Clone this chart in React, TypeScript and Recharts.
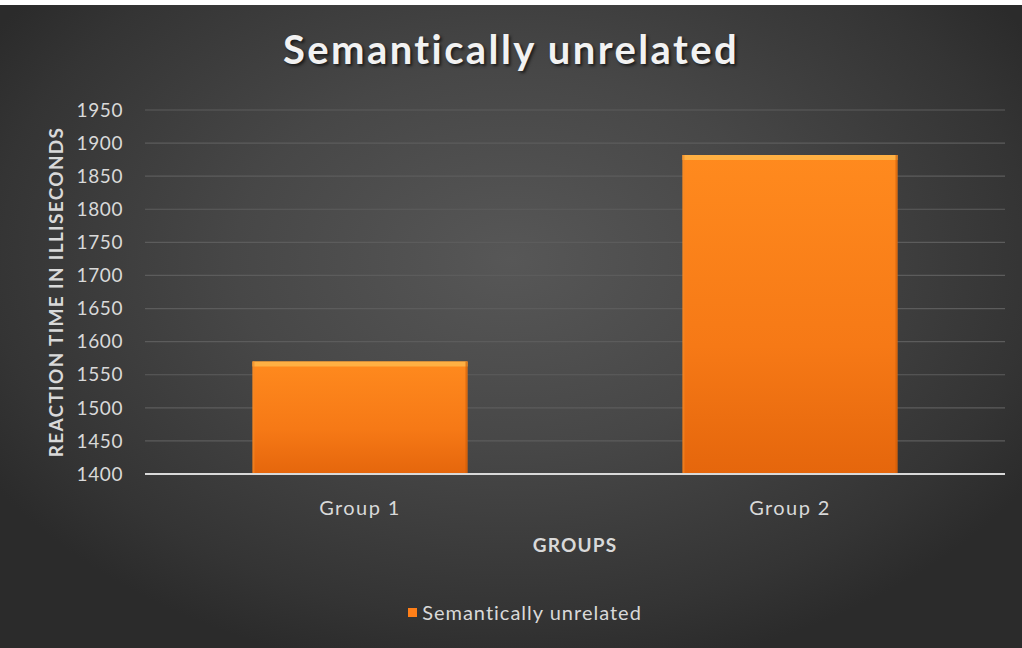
import { BarChart, Bar, XAxis, YAxis, CartesianGrid, Legend, Label } from 'recharts'

const groups = ['Group 1', 'Group 2']
const reactionTimes = [1570, 1882]
const yTicks = [1400, 1450, 1500, 1550, 1600, 1650, 1700, 1750, 1800, 1850, 1900, 1950]
const seriesName = 'Semantically unrelated'

const data = groups.map((g, i) => ({ group: g, value: reactionTimes[i] }))

const FONT = 'Lato, "Open Sans", sans-serif'
const TEXT = '#d9d9d9'

function GlossyBar(props: any) {
  const { x, y, width, height } = props
  if (!height || height <= 0) return null
  return (
    <g>
      <rect x={x} y={y} width={width} height={height} fill="url(#barFill)" />
      <rect x={x} y={y} width={width} height={5} fill="#ffb043" />
      <rect x={x} y={y} width={2} height={height} fill="#f08a2a" opacity={0.6} />
      <rect x={x + width - 2} y={y} width={2} height={height} fill="#c85a08" opacity={0.6} />
    </g>
  )
}

function YTitle(props: any) {
  const { viewBox } = props
  const cx = viewBox.x + 55
  const cy = viewBox.y + viewBox.height / 2
  return (
    <text
      x={cx}
      y={cy}
      transform={`rotate(-90 ${cx} ${cy})`}
      textAnchor="middle"
      dominantBaseline="central"
      fill={TEXT}
      fontFamily={FONT}
      fontWeight={700}
      fontSize={19}
      letterSpacing={1.3}
    >
      REACTION TIME IN ILLISECONDS
    </text>
  )
}

function LegendContent() {
  return (
    <div style={{ display: 'flex', justifyContent: 'center', alignItems: 'center', paddingLeft: 28, fontFamily: FONT, fontSize: 20, letterSpacing: 1, color: TEXT }}>
      <span style={{ width: 9, height: 9, background: '#ff7f18', marginRight: 5, display: 'inline-block' }} />
      {seriesName}
    </div>
  )
}

export default function App() {
  return (
    <div
      style={{
        position: 'relative',
        width: 1022,
        height: 648,
        background: 'radial-gradient(ellipse 60% 65% at 50% 40%, #575757 0%, #474747 45%, #343434 85%, #2b2b2b 100%)',
        overflow: 'hidden',
      }}
    >
      <style>{'body{margin:0}'}</style>
      <div style={{ position: 'absolute', left: 0, top: 0, width: 1022, height: 5, background: '#fff' }} />
      <div
        style={{
          position: 'absolute',
          top: 25,
          left: 0,
          width: 1022,
          textAlign: 'center',
          fontFamily: FONT,
          fontWeight: 700,
          fontSize: 40,
          color: '#f2f2f2',
          letterSpacing: 2.4,
          textShadow: '2px 2px 3px rgba(0,0,0,0.6)',
        }}
      >
        Semantically unrelated
      </div>
      <BarChart
        width={1022}
        height={648}
        data={data}
        margin={{ top: 110, right: 17, bottom: 84, left: 0 }}
        barCategoryGap="25%"
        style={{ position: 'absolute', left: 0, top: 0 }}
      >
        <defs>
          <linearGradient id="barFill" x1="0" y1="0" x2="0" y2="1">
            <stop offset="0%" stopColor="#ff8a1e" />
            <stop offset="60%" stopColor="#f67916" />
            <stop offset="100%" stopColor="#e5660c" />
          </linearGradient>
        </defs>
        <CartesianGrid vertical={false} stroke="#5c5c5c" strokeWidth={1.2} />
        <XAxis
          dataKey="group"
          height={90}
          tickLine={false}
          axisLine={{ stroke: '#d9d9d9', strokeWidth: 2 }}
          tickMargin={21}
          tick={{ fill: TEXT, fontFamily: FONT, fontSize: 20, letterSpacing: 1.4 }}
        >
          <Label
            value="GROUPS"
            position="insideBottom"
            offset={12}
            fill={TEXT}
            fontFamily={FONT}
            fontWeight={700}
            fontSize={19}
            letterSpacing={1.2}
          />
        </XAxis>
        <YAxis
          width={145}
          domain={[1400, 1950]}
          ticks={yTicks}
          interval={0}
          tickLine={false}
          axisLine={false}
          tickSize={0}
          tickMargin={22}
          tick={{ fill: TEXT, fontFamily: FONT, fontSize: 19, letterSpacing: 0.6 }}
        >
          <Label content={<YTitle />} />
        </YAxis>
        <Legend
          layout="horizontal"
          verticalAlign="middle"
          align="center"
          content={<LegendContent />}
          wrapperStyle={{ top: 600, left: 0, width: 1022 }}
        />
        <Bar dataKey="value" name={seriesName} shape={<GlossyBar />} isAnimationActive={false} />
      </BarChart>
    </div>
  )
}
